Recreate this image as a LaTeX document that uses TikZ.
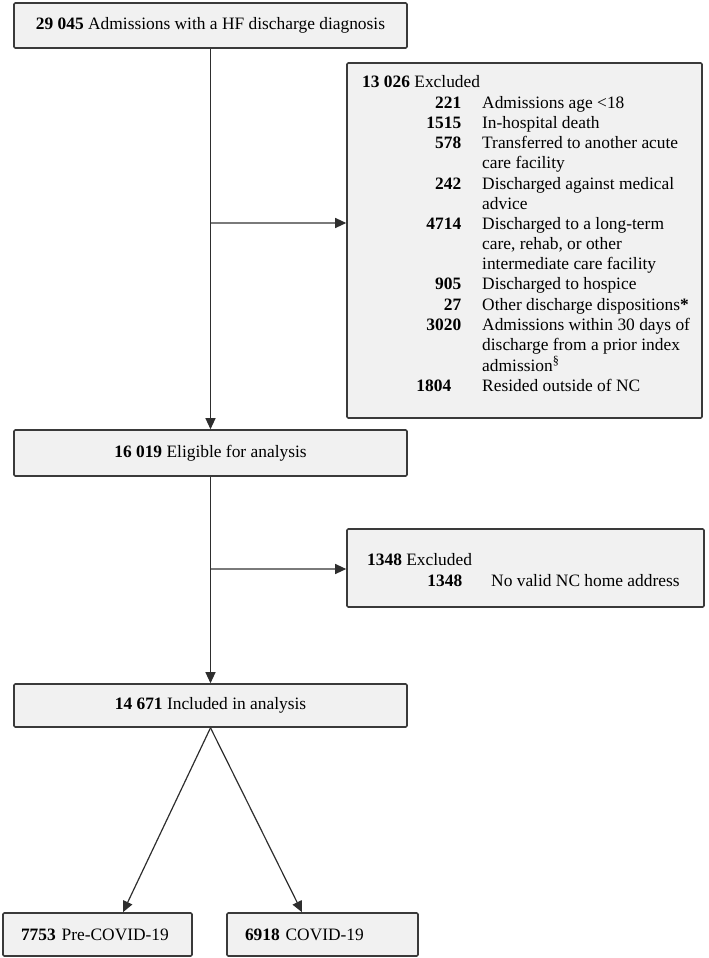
\documentclass[tikz,border=0pt]{standalone}
\usepackage{fontspec}
\setmainfont{Liberation Serif}
\usepackage{array}
\usetikzlibrary{arrows.meta}
\definecolor{boxfill}{HTML}{F1F1F1}
\definecolor{boxline}{HTML}{3A3A3A}
\definecolor{connline}{HTML}{2E2E2E}
\definecolor{branchline}{HTML}{7A7A7A}
\tikzset{
  flowbox/.style={draw=boxline, line width=1.6pt, fill=boxfill, rounded corners=1.2pt, inner sep=0pt, align=center},
  leftbox/.style={flowbox, inner xsep=18pt, inner ysep=0pt, align=left},
  conn/.style={draw=connline, line width=1.2pt, -{Triangle[length=11pt,width=10pt]}},
  branch/.style={draw=branchline, line width=1.2pt, -{Triangle[length=11pt,width=10pt,color=connline]}},
  plain/.style={inner sep=0pt, anchor=base west}
}
\begin{document}
\begin{tikzpicture}[x=1pt,y=-1pt,font=\fontsize{17.4}{20.2}\selectfont]
\useasboundingbox (0,0) rectangle (709,958);

\node[flowbox, minimum width=393pt, minimum height=45pt] (n1) at (210.5,25.5) {\textbf{29 045} Admissions with a HF discharge diagnosis};

\node[flowbox, minimum width=355pt, minimum height=355pt] (ex1) at (524.5,240.5) {};
\node[plain] (ex1t) at (362,87.2) {\begin{tabular}[t]{@{}>{\raggedleft\arraybackslash}p{99pt}@{\hspace{21pt}}l@{}}
\multicolumn{2}{@{}l@{}}{\textbf{13 026} Excluded}\\[0.8pt]
\textbf{221} & Admissions age <18\\
\textbf{1515} & In-hospital death\\
\textbf{578} & Transferred to another acute\\
 & care facility\\
\textbf{242} & Discharged against medical\\
 & advice\\
\textbf{4714} & Discharged to a long-term\\
 & care, rehab, or other\\
 & intermediate care facility\\
\textbf{905} & Discharged to hospice\\
\textbf{27} & Other discharge dispositions\textbf{*}\\
\textbf{3020} & Admissions within 30 days of\\
 & discharge from a prior index\\
 & admission\textsuperscript{§}\\
\textbf{1804}\hspace*{10pt} & Resided outside of NC
\end{tabular}};

\node[flowbox, minimum width=393pt, minimum height=46pt] (n2) at (210.5,453) {\textbf{16 019} Eligible for analysis};

\node[flowbox, minimum width=357pt, minimum height=78pt] (ex2) at (525.5,568) {};
\node[plain] (ex2t) at (367,565.5) {\begin{tabular}[t]{@{}>{\raggedleft\arraybackslash}p{95pt}@{\hspace{29pt}}l@{}}
\multicolumn{2}{@{}l@{}}{\textbf{1348} Excluded}\\[0.8pt]
\textbf{1348} & No valid NC home address
\end{tabular}};

\node[flowbox, minimum width=393pt, minimum height=43pt] (n3) at (210.5,705.5) {\textbf{14 671} Included in analysis};

\node[leftbox, text width=153pt, minimum height=43pt] (n4) at (97.5,934.5) {\textbf{7753} Pre-COVID-19};
\node[leftbox, text width=155pt, minimum height=43pt] (n5) at (322.5,934.5) {\textbf{6918} COVID-19};

\coordinate (b1) at (210.5,223);
\coordinate (b2) at (210.5,569);

\draw[conn] (n1.south) -- (n2.north);
\draw[branch] (b1) -- (b1 -| ex1.west);
\draw[conn] (n2.south) -- (n3.north);
\draw[branch] (b2) -- (b2 -| ex2.west);
\draw[conn] (n3.south) -- ([xshift=25.5pt]n4.north);
\draw[conn] (n3.south) -- ([xshift=-20.5pt]n5.north);
\end{tikzpicture}
\end{document}
